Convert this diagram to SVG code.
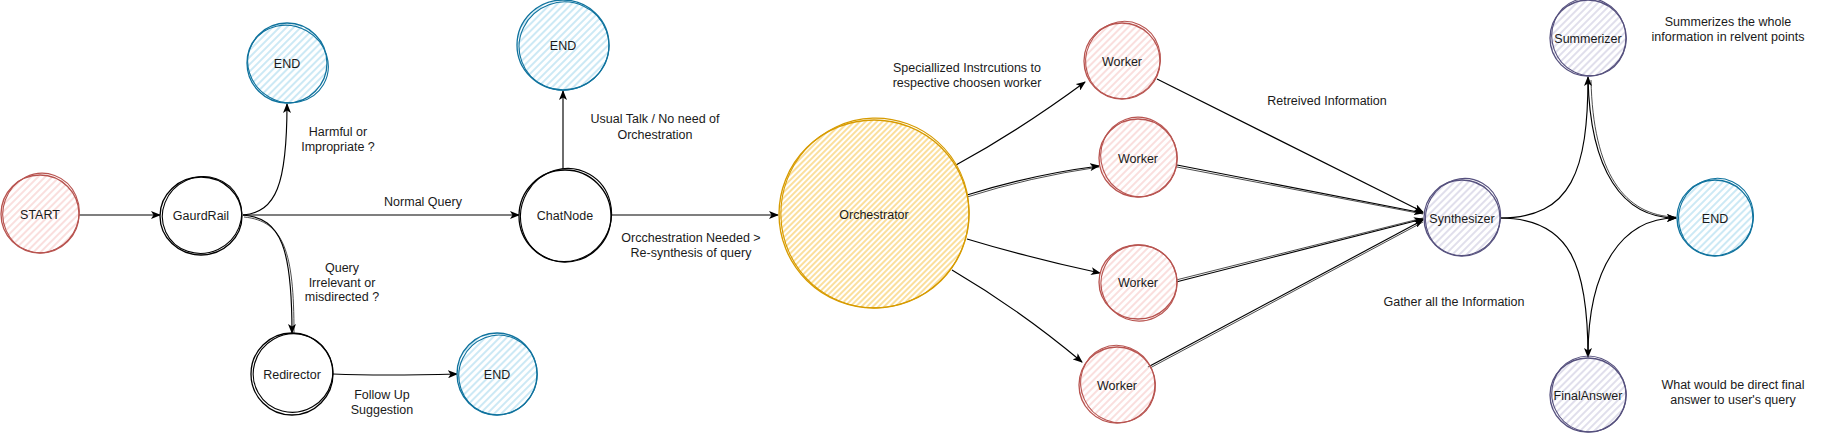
<svg xmlns="http://www.w3.org/2000/svg" width="1824" height="433" viewBox="0 0 1824 433">
<defs>
<pattern id="hRed" width="5" height="5" patternUnits="userSpaceOnUse" patternTransform="rotate(45)"><line x1="2" y1="0" x2="2" y2="5" stroke="#f8cecc" stroke-width="1.3"/></pattern>
<pattern id="hBlue" width="5" height="5" patternUnits="userSpaceOnUse" patternTransform="rotate(45)"><line x1="2" y1="0" x2="2" y2="5" stroke="#b1ddf0" stroke-width="1.3"/></pattern>
<pattern id="hPurple" width="5" height="5" patternUnits="userSpaceOnUse" patternTransform="rotate(45)"><line x1="2" y1="0" x2="2" y2="5" stroke="#d0cee2" stroke-width="1.3"/></pattern>
<pattern id="hOrange" width="4" height="4" patternUnits="userSpaceOnUse" patternTransform="rotate(45)"><line x1="2" y1="0" x2="2" y2="4" stroke="#f9c95a" stroke-width="1.2"/></pattern>
<marker id="arr" viewBox="0 0 10 8" refX="9" refY="4" markerWidth="10" markerHeight="8" markerUnits="userSpaceOnUse" orient="auto"><path d="M0,0 L10,4 L0,8 L2.5,4 z" fill="#000"/></marker>
</defs>
<style>
text{font-family:"Liberation Sans",Arial,sans-serif;font-size:12.5px;fill:#1a1a1a;text-anchor:middle}
.n ellipse{fill:none;stroke-width:1.1}
.n .f{stroke-width:1.3}
.red ellipse{stroke:#b85450}.red .f{fill:url(#hRed)}
.blue ellipse{stroke:#10739e}.blue .f{fill:url(#hBlue)}
.pur ellipse{stroke:#56517e}.pur .f{fill:url(#hPurple)}
.org ellipse{stroke:#d79b00}.org .f{fill:url(#hOrange)}
.blk ellipse{stroke:#000}.blk .f{fill:#fff}
.e path{fill:none;stroke:#000;stroke-width:1.15;marker-end:url(#arr)}
.e path.s{stroke-width:0.7;marker-end:none}
</style>
<rect width="1824" height="433" fill="#fff"/>
<g id="connectors" class="e">
<path d="M79 215 L160 215"/>
<path d="M243 215 C276 212 287 185 287 104"/>
<path d="M243 215 L519 215"/>
<path d="M243 215 C282 218 292 250 292 333"/>
<path class="s" d="M244 217 C284 221 294 252 294 333"/>
<path d="M333 374 C380 376 420 375 457 374"/>
<path d="M563 169 L563 91"/>
<path d="M611 215 L778 215"/>
<path d="M956 165 Q1020 130 1085 82"/>
<path d="M967 195 Q1030 175 1099 166"/>
<path class="s" d="M967 197 Q1030 177 1099 167"/>
<path d="M967 239 Q1030 258 1100 273"/>
<path d="M952 270 Q1020 310 1082 362"/>
<path d="M1157 79 L1423 212"/>
<path d="M1177 165 L1423 213"/>
<path class="s" d="M1177 167 L1423 214"/>
<path d="M1176 282 L1423 219"/>
<path class="s" d="M1176 280 L1423 218"/>
<path d="M1148 367 L1423 220"/>
<path class="s" d="M1150 368 L1423 222"/>
<path d="M1500 218 C1572 218 1588 170 1588 77"/>
<path d="M1588 78 C1590 170 1622 218 1676 218"/>
<path class="s" d="M1591 80 C1593 172 1624 216 1676 217"/>
<path d="M1500 218 C1572 218 1588 268 1588 357"/>
<path d="M1588 356 C1588 268 1622 218 1676 218"/>
</g>
<g id="start" class="n red"><ellipse class="f" cx="40" cy="214" rx="39" ry="39"/><ellipse cx="41" cy="213" rx="38" ry="40" transform="rotate(20 41 213)"/><text x="40" y="219">START</text></g>
<g id="gaurdrail" class="n blk"><ellipse class="f" cx="201" cy="216" rx="41" ry="39"/><ellipse cx="202" cy="215" rx="40" ry="38" transform="rotate(-25 202 215)"/><text x="201" y="220">GaurdRail</text></g>
<g id="end1" class="n blue"><ellipse class="f" cx="287" cy="63" rx="40" ry="40"/><ellipse cx="288" cy="64" rx="41" ry="38" transform="rotate(30 288 64)"/><text x="287" y="68">END</text></g>
<g id="redirector" class="n blk"><ellipse class="f" cx="292" cy="374" rx="41" ry="41"/><ellipse cx="293" cy="373" rx="40" ry="39" transform="rotate(-30 293 373)"/><text x="292" y="379">Redirector</text></g>
<g id="end2" class="n blue"><ellipse class="f" cx="497" cy="374" rx="40" ry="41"/><ellipse cx="498" cy="375" rx="39" ry="40" transform="rotate(25 498 375)"/><text x="497" y="379">END</text></g>
<g id="chatnode" class="n blk"><ellipse class="f" cx="565" cy="216" rx="46" ry="46"/><ellipse cx="566" cy="215" rx="45" ry="47" transform="rotate(30 566 215)"/><text x="565" y="220">ChatNode</text></g>
<g id="end3" class="n blue"><ellipse class="f" cx="563" cy="45" rx="46" ry="45"/><ellipse cx="564" cy="46" rx="45" ry="44" transform="rotate(-20 564 46)"/><text x="563" y="50">END</text></g>
<g id="orchestrator" class="n org"><ellipse class="f" cx="874" cy="214" rx="95" ry="94"/><ellipse cx="875" cy="213" rx="94" ry="95" transform="rotate(20 875 213)"/><text x="874" y="219">Orchestrator</text></g>
<g id="worker1" class="n red"><ellipse class="f" cx="1122" cy="61" rx="38" ry="38"/><ellipse cx="1123" cy="60" rx="37" ry="39" transform="rotate(25 1123 60)"/><text x="1122" y="66">Worker</text></g>
<g id="worker2" class="n red"><ellipse class="f" cx="1138" cy="158" rx="39" ry="39"/><ellipse cx="1139" cy="157" rx="38" ry="40" transform="rotate(-20 1139 157)"/><text x="1138" y="163">Worker</text></g>
<g id="worker3" class="n red"><ellipse class="f" cx="1138" cy="282" rx="39" ry="37"/><ellipse cx="1139" cy="283" rx="38" ry="38" transform="rotate(20 1139 283)"/><text x="1138" y="287">Worker</text></g>
<g id="worker4" class="n red"><ellipse class="f" cx="1117" cy="385" rx="38" ry="38"/><ellipse cx="1118" cy="384" rx="37" ry="39" transform="rotate(-25 1118 384)"/><text x="1117" y="390">Worker</text></g>
<g id="synthesizer" class="n pur"><ellipse class="f" cx="1462" cy="218" rx="38" ry="38"/><ellipse cx="1463" cy="217" rx="37" ry="39" transform="rotate(30 1463 217)"/><text x="1462" y="223">Synthesizer</text></g>
<g id="summerizer" class="n pur"><ellipse class="f" cx="1588" cy="38" rx="38" ry="38"/><ellipse cx="1589" cy="37" rx="37" ry="39" transform="rotate(-20 1589 37)"/><text x="1588" y="43">Summerizer</text></g>
<g id="end4" class="n blue"><ellipse class="f" cx="1715" cy="218" rx="38" ry="38"/><ellipse cx="1716" cy="217" rx="37" ry="39" transform="rotate(25 1716 217)"/><text x="1715" y="223">END</text></g>
<g id="finalanswer" class="n pur"><ellipse class="f" cx="1588" cy="395" rx="38" ry="37"/><ellipse cx="1589" cy="394" rx="37" ry="38" transform="rotate(-25 1589 394)"/><text x="1588" y="400">FinalAnswer</text></g>
<g id="labels">
<text x="338" y="136">Harmful or</text><text x="338" y="151">Impropriate ?</text>
<text x="423" y="206">Normal Query</text>
<text x="342" y="272">Query</text><text x="342" y="287">Irrelevant or</text><text x="342" y="301">misdirected ?</text>
<text x="382" y="399">Follow Up</text><text x="382" y="414">Suggestion</text>
<text x="655" y="123">Usual Talk / No need of</text><text x="655" y="139">Orchestration</text>
<text x="691" y="242">Orcchestration Needed &gt;</text><text x="691" y="257">Re-synthesis of query</text>
<text x="967" y="72">Speciallized Instrcutions to</text><text x="967" y="87">respective choosen worker</text>
<text x="1327" y="105">Retreived Information</text>
<text x="1454" y="306">Gather all the Information</text>
<text x="1728" y="26">Summerizes the whole</text><text x="1728" y="41">information in relvent points</text>
<text x="1733" y="389">What would be direct final</text><text x="1733" y="404">answer to user's query</text>
</g>
</svg>
